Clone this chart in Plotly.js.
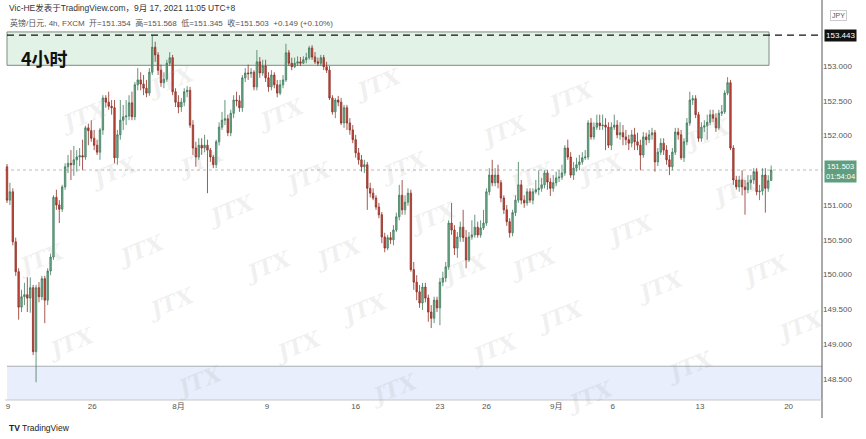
<!DOCTYPE html>
<html>
<head>
<meta charset="utf-8">
<script src="https://cdn.plot.ly/plotly-3.0.1.min.js"></script>
<style>html,body{margin:0;padding:0;background:#fff;}#chart{width:866px;height:439px;}</style>
</head>
<body>
<div id="chart"></div>
<script>
// GBP/JPY 4h candles (FXCM)
const openP = [
151.55,151.07,151.19,150.47,150.04,149.53,149.68,149.71,149.66,149.81,
148.89,149.81,149.68,149.94,149.63,150.05,150.25,151.11,151.00,150.94,
151.26,151.55,151.60,151.58,151.65,151.69,151.71,151.69,152.11,152.07,
151.96,151.86,151.76,152.08,152.54,152.48,152.42,152.40,151.68,152.01,
152.22,152.27,152.28,152.47,152.27,152.73,152.80,152.74,152.68,152.61,
152.91,153.27,153.16,152.94,152.76,152.81,153.04,153.12,152.63,152.48,
152.41,152.48,152.63,152.65,152.15,151.82,151.69,151.86,151.82,151.86,
151.79,151.69,151.58,151.91,152.12,152.22,152.24,152.04,152.32,152.51,
152.50,152.40,152.83,152.90,152.89,152.91,152.70,153.06,152.90,153.00,
152.83,152.70,152.87,152.73,152.61,152.73,152.80,153.19,153.04,152.99,
153.04,153.06,153.04,153.09,153.12,153.26,153.13,153.06,153.04,153.12,
152.99,152.94,152.54,152.34,152.51,152.48,152.18,152.40,152.18,152.08,
151.94,151.75,151.65,151.55,151.58,151.24,151.17,151.10,150.97,150.86,
150.54,150.38,150.53,150.50,150.64,150.83,151.14,150.93,151.04,151.17,
150.07,149.89,149.75,149.59,149.82,149.66,149.46,149.37,149.63,149.52,
149.89,149.95,150.11,150.74,150.64,150.38,150.54,150.68,150.53,150.21,
150.54,150.57,150.68,150.57,150.67,150.74,151.19,151.43,151.32,151.43,
151.32,151.10,150.93,150.76,150.60,150.89,151.07,151.29,151.07,151.03,
151.19,151.07,151.19,151.22,151.24,151.29,151.46,151.33,151.24,151.32,
151.39,151.40,151.46,151.82,151.69,151.43,151.53,151.58,151.62,151.68,
151.69,152.18,151.98,152.12,152.18,152.14,152.15,152.12,151.86,152.12,
152.15,152.01,152.04,151.98,151.94,151.89,152.01,151.91,151.86,151.72,
151.98,151.94,152.01,152.04,151.62,151.76,151.89,151.79,151.65,151.55,
151.76,152.05,152.01,151.68,151.91,152.18,152.51,152.53,152.30,151.96,
152.12,152.14,152.19,152.30,152.25,152.11,152.32,152.34,152.61,152.76,
151.82,151.36,151.26,151.36,151.26,151.22,151.32,151.36,151.48,151.19,
151.20,151.43,151.24,151.354
];
const highP = [
151.59,151.32,151.24,150.53,150.09,149.78,149.88,149.96,149.96,149.85,
149.85,149.89,149.98,149.98,150.09,150.30,151.14,151.22,151.07,151.29,
151.60,151.72,151.79,151.85,151.79,151.82,151.94,152.14,152.17,152.22,
152.08,151.94,152.11,152.58,152.58,152.63,152.51,152.51,152.08,152.51,
152.44,152.51,152.58,152.63,152.77,152.97,152.91,152.87,152.80,152.97,
153.44,153.35,153.20,153.02,152.91,153.09,153.20,153.16,152.68,152.58,
152.54,152.68,152.71,152.70,152.22,151.91,151.96,151.96,152.01,151.94,
151.82,151.72,151.94,152.19,152.34,152.51,152.30,152.37,152.58,152.63,
152.58,152.87,152.97,153.02,152.97,152.94,153.23,153.13,153.09,153.09,
152.91,152.94,152.91,152.80,152.80,152.87,153.32,153.23,153.12,153.12,
153.14,153.13,153.14,153.19,153.29,153.30,153.20,153.12,153.16,153.16,
153.06,153.00,152.58,152.54,152.57,152.54,152.44,152.44,152.25,152.15,
152.01,151.82,151.72,151.65,151.62,151.32,151.24,151.14,151.03,150.90,
150.60,150.57,150.61,150.71,150.89,151.29,151.36,151.14,151.24,151.22,
150.18,149.99,149.85,149.88,149.88,149.71,149.56,149.68,149.68,149.95,
150.04,150.18,150.78,151.03,150.71,150.61,150.76,150.93,150.64,150.61,
150.78,150.86,150.76,150.78,150.93,151.24,151.53,151.65,151.53,151.58,
151.36,151.14,151.00,150.81,150.93,151.14,151.62,151.36,151.14,151.24,
151.24,151.24,151.36,151.50,151.39,151.50,151.50,151.39,151.43,151.48,
151.50,151.58,151.86,151.94,151.76,151.62,151.68,151.72,151.76,151.79,
152.22,152.25,152.19,152.30,152.30,152.30,152.25,152.19,152.19,152.30,
152.22,152.19,152.15,152.08,152.01,152.08,152.11,152.04,151.94,152.05,
152.04,152.08,152.11,152.08,151.82,151.96,151.96,151.86,151.72,151.82,
152.11,152.11,152.08,151.96,152.25,152.63,152.58,152.58,152.34,152.19,
152.22,152.30,152.37,152.37,152.32,152.37,152.44,152.65,152.84,152.80,
151.86,151.42,151.42,151.50,151.36,151.43,151.43,151.53,151.53,151.29,
151.53,151.53,151.43,151.568
];
const lowP = [
151.03,151.00,150.42,149.98,149.35,149.46,149.56,149.46,149.45,148.84,
148.45,149.60,149.63,149.30,149.56,149.99,150.21,150.93,150.74,150.90,
151.22,151.46,151.36,151.42,151.48,151.56,151.50,151.65,151.86,151.91,
151.79,151.72,151.65,152.01,152.40,152.37,152.30,151.60,151.58,151.94,
152.08,152.15,152.22,152.22,152.22,152.65,152.65,152.58,152.55,152.57,
152.87,153.06,152.87,152.70,152.68,152.77,153.00,152.58,152.41,152.32,
152.34,152.42,152.55,152.11,151.72,151.55,151.65,151.72,151.76,151.17,
151.62,151.53,151.53,151.86,152.08,152.15,151.99,151.99,152.25,152.42,
152.34,152.34,152.77,152.80,152.83,152.65,152.65,152.83,152.86,152.77,
152.63,152.65,152.68,152.55,152.58,152.68,152.77,153.00,152.94,152.97,
153.00,153.00,153.03,153.04,153.09,153.09,153.03,153.00,153.00,152.94,
152.90,152.51,152.30,152.25,152.42,152.15,152.11,152.08,152.01,151.89,
151.68,151.58,151.48,151.46,150.93,151.11,151.07,150.93,150.81,150.45,
150.32,150.35,150.44,150.42,150.61,150.78,150.86,150.86,150.99,150.04,
149.78,149.63,149.52,149.49,149.60,149.32,149.23,149.30,149.46,149.27,
149.83,149.89,150.07,150.57,150.28,150.24,150.47,150.47,150.09,150.18,
150.50,150.53,150.53,150.53,150.64,150.70,151.14,151.27,151.27,151.24,
151.04,150.87,150.70,150.53,150.55,150.84,151.03,151.01,150.96,150.99,
151.03,151.01,151.16,151.14,151.19,151.24,151.22,151.13,151.19,151.27,
151.33,151.36,151.42,151.65,151.39,151.36,151.48,151.50,151.58,151.65,
151.65,151.94,151.94,152.08,152.08,152.08,151.79,151.82,151.79,152.08,
151.96,151.94,151.86,151.86,151.79,151.83,151.79,151.79,151.50,151.68,
151.86,151.89,151.94,151.48,151.56,151.72,151.72,151.58,151.43,151.50,
151.72,151.94,151.65,151.62,151.86,152.14,152.44,152.25,151.91,151.91,
152.05,151.94,152.15,152.19,152.05,152.08,152.28,152.31,152.58,151.79,
151.29,151.22,151.19,151.14,150.86,151.17,151.22,151.30,151.14,151.07,
151.14,150.89,151.19,151.345
];
const closeP = [
151.07,151.19,150.47,150.04,149.53,149.68,149.71,149.66,149.81,148.89,
149.81,149.68,149.94,149.63,150.05,150.25,151.11,151.00,150.94,151.26,
151.55,151.60,151.58,151.65,151.69,151.71,151.69,152.11,152.07,151.96,
151.86,151.76,152.08,152.54,152.48,152.42,152.40,151.68,152.01,152.22,
152.27,152.28,152.47,152.27,152.73,152.80,152.74,152.68,152.61,152.91,
153.27,153.16,152.94,152.76,152.81,153.04,153.12,152.63,152.48,152.41,
152.48,152.63,152.65,152.15,151.82,151.69,151.86,151.82,151.86,151.79,
151.69,151.58,151.91,152.12,152.22,152.24,152.04,152.32,152.51,152.50,
152.40,152.83,152.90,152.89,152.91,152.70,153.06,152.90,153.00,152.83,
152.70,152.87,152.73,152.61,152.73,152.80,153.19,153.04,152.99,153.04,
153.06,153.04,153.09,153.12,153.26,153.13,153.06,153.04,153.12,152.99,
152.94,152.54,152.34,152.51,152.48,152.18,152.40,152.18,152.08,151.94,
151.75,151.65,151.55,151.58,151.24,151.17,151.10,150.97,150.86,150.54,
150.38,150.53,150.50,150.64,150.83,151.14,150.93,151.04,151.17,150.07,
149.89,149.75,149.59,149.82,149.66,149.46,149.37,149.63,149.52,149.89,
149.95,150.11,150.74,150.64,150.38,150.54,150.68,150.53,150.21,150.54,
150.57,150.68,150.57,150.67,150.74,151.19,151.43,151.32,151.43,151.32,
151.10,150.93,150.76,150.60,150.89,151.07,151.29,151.07,151.03,151.19,
151.07,151.19,151.22,151.24,151.29,151.46,151.33,151.24,151.32,151.39,
151.40,151.46,151.82,151.69,151.43,151.53,151.58,151.62,151.68,151.69,
152.18,151.98,152.12,152.18,152.14,152.15,152.12,151.86,152.12,152.15,
152.01,152.04,151.98,151.94,151.89,152.01,151.91,151.86,151.72,151.98,
151.94,152.01,152.04,151.62,151.76,151.89,151.79,151.65,151.55,151.76,
152.05,152.01,151.68,151.91,152.18,152.51,152.53,152.30,151.96,152.12,
152.14,152.19,152.30,152.25,152.11,152.32,152.34,152.61,152.76,151.82,
151.36,151.26,151.36,151.26,151.22,151.32,151.36,151.48,151.19,151.20,
151.43,151.24,151.35,151.503
];
// x-axis date labels placed at the candle index where the date starts
const tickIdx  = [0.3, 29.3, 59, 89.5, 120, 149, 165, 189, 208.5, 238.5, 269];
const tickText = ['9','26','8月','9','16','23','26','9月','6','13','20'];
// price axis labels
const priceTicks = [148.5,149,149.5,150,150.5,151,152,152.5,153];
// key levels
const resistTop = 153.49, resistBottom = 153.01;
const supportTop = 148.68;
const highLevel = 153.443;
const lastPrice = 151.503;

const xIdx = closeP.map((_, i) => i);

const W = 866, H = 439;
const M = {l:5, r:44, t:20, b:39};
const PW = W - M.l - M.r, PH = H - M.t - M.b;
const px = (x) => (x - M.l) / PW;     // pixel -> paper x
const py = (y) => (H - M.b - y) / PH; // pixel -> paper y
const yMin = 148.194, yMax = 153.662;

const trace = {
  type: 'candlestick',
  x: xIdx, open: openP, high: highP, low: lowP, close: closeP,
  increasing: {line: {color: '#3f7a5c', width: 0.8}, fillcolor: '#74b293'},
  decreasing: {line: {color: '#8f2e25', width: 0.8}, fillcolor: '#cc4a3d'},
  whiskerwidth: 0,
  hoverinfo: 'skip',
  showlegend: false
};

const font = 'Liberation Sans, Noto Sans CJK SC, sans-serif';
const shapes = [
  {type:'rect', xref:'paper', yref:'y', x0:px(7), x1:px(769), y0:resistBottom, y1:resistTop,
   fillcolor:'#e3f2e7', line:{color:'#7f8a83', width:1}, layer:'below'},
  {type:'rect', xref:'paper', yref:'y', x0:px(7), x1:1, y0:yMin, y1:supportTop,
   fillcolor:'#e8eefc', line:{width:0}, layer:'below'},
  {type:'line', xref:'paper', yref:'y', x0:px(7), x1:1, y0:supportTop, y1:supportTop,
   line:{color:'#a9adb5', width:1}, layer:'below'},
  {type:'line', xref:'paper', yref:'y', x0:px(7), x1:1, y0:highLevel, y1:highLevel,
   line:{color:'#111', width:1.3, dash:'7px,5px'}},
  {type:'line', xref:'paper', yref:'y', x0:0, x1:1, y0:lastPrice, y1:lastPrice,
   line:{color:'#bbbbbb', width:1, dash:'dot'}, layer:'below'},
  {type:'line', xref:'paper', yref:'paper', x0:1, x1:1, y0:py(418), y1:py(0),
   line:{color:'#555', width:1}},
  {type:'line', xref:'paper', yref:'paper', x0:0, x1:1, y0:0, y1:0,
   line:{color:'#c8c8c8', width:1}}
];

const annotations = [
  {xref:'paper', yref:'paper', x:px(7), y:py(8), xanchor:'left', yanchor:'middle', showarrow:false,
   text:'Vic-HE发表于TradingView.com，9月 17, 2021 11:05 UTC+8', font:{family:font, size:8.5, color:'#333'}},
  {xref:'paper', yref:'paper', x:px(8), y:py(23), xanchor:'left', yanchor:'middle', showarrow:false,
   text:'英镑/日元, 4h, FXCM  开=151.354  高=151.568  低=151.345  收=151.503  +0.149 (+0.10%)',
   font:{family:font, size:8, color:'#555'}},
  {xref:'paper', yref:'paper', x:px(19), y:py(58), xanchor:'left', yanchor:'middle', showarrow:false,
   text:'<b>4小时</b>', font:{family:'Noto Sans CJK SC, sans-serif', size:18, color:'#111'}},
  {xref:'paper', yref:'paper', x:px(839), y:py(15), xanchor:'center', yanchor:'middle', showarrow:false,
   text:'JPY', font:{family:font, size:7, color:'#555'}, bordercolor:'#ccc', borderwidth:1, borderpad:1, bgcolor:'#fff'},
  {xref:'paper', yref:'y', x:px(840), y:highLevel, xanchor:'center', yanchor:'middle', showarrow:false,
   text:'153.443', font:{family:font, size:8, color:'#fff'}, bgcolor:'#111', borderpad:1},
  {xref:'paper', yref:'y', x:px(840), y:lastPrice - 0.02, xanchor:'center', yanchor:'middle', showarrow:false,
   text:'151.503<br>01:54:04', font:{family:font, size:7.5, color:'#fff'}, bgcolor:'#5f9f7d', borderpad:1},
  {xref:'paper', yref:'paper', x:px(7), y:py(428), xanchor:'left', yanchor:'middle', showarrow:false,
   text:'<b>TV</b> TradingView', font:{family:font, size:8.5, color:'#222'}}
];

// faint "JTX" watermark pattern
const wm = [[53,92],[83,172],[110,250],[140,327],[168,405],[140,57],[170,137],[200,210],[237,290],[267,370],
            [280,90],[307,177],[337,253],[363,333],[393,413],[377,60],[403,143],[433,217],[463,293],[493,373],
            [503,107],[530,177],[563,263],[590,340],[620,420],[600,73],[630,145],[660,230],[690,310],[720,390],
            [737,110],[765,190],[795,270],[830,350],[10,283],[40,367]];
wm.forEach(([x, y]) => annotations.push({
  xref:'paper', yref:'paper', x:px(x), y:py(y), showarrow:false, text:'<b><i>JTX</i></b>', textangle:-22,
  font:{family:'DejaVu Serif, serif', size:22, color:'rgba(160,160,160,0.16)'}
}));

const layout = {
  width: W, height: H, margin: M,
  paper_bgcolor: '#fff', plot_bgcolor: '#fff',
  showlegend: false, hovermode: false,
  xaxis: {type:'linear', range:[-0.69, 280.5], tickvals: tickIdx, ticktext: tickText,
          showgrid:false, zeroline:false, showline:false, ticks:'', rangeslider:{visible:false},
          tickfont:{family:font, size:8, color:'#555'}, fixedrange:true},
  yaxis: {side:'right', range:[yMin, yMax], tickvals: priceTicks, tickformat:'.3f',
          showgrid:false, zeroline:false, showline:false, ticks:'',
          tickfont:{family:font, size:8, color:'#555'}, fixedrange:true},
  shapes: shapes,
  annotations: annotations
};

Plotly.newPlot('chart', [trace], layout, {staticPlot:true, displayModeBar:false});
</script>
</body>
</html>
